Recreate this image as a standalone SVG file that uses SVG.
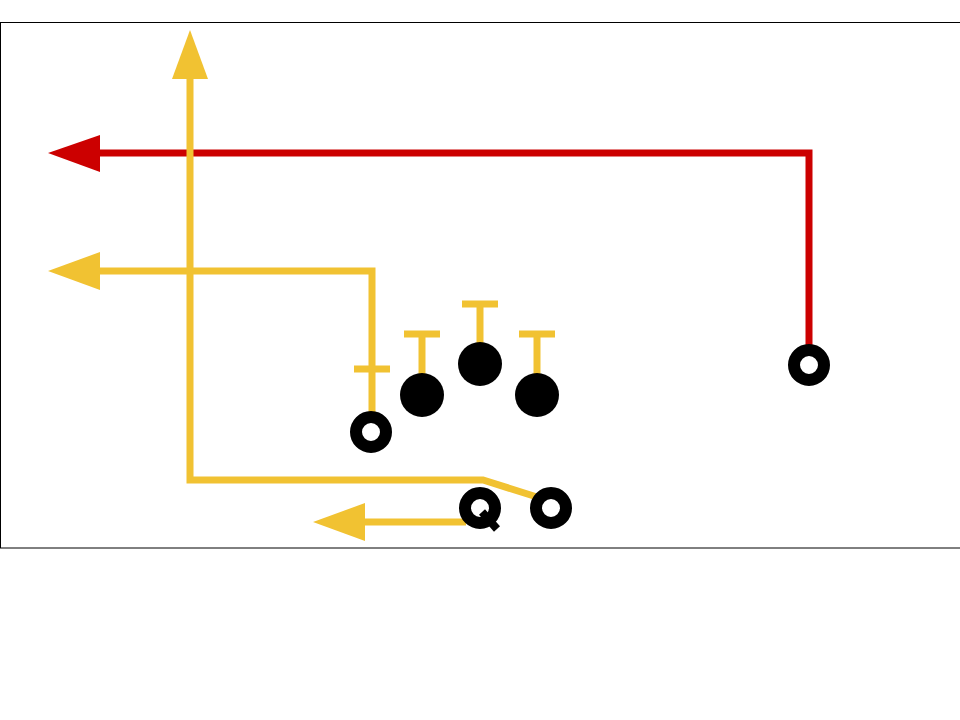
<svg xmlns="http://www.w3.org/2000/svg" width="960" height="720" viewBox="0 0 960 720">
<style>
.y{stroke:#f1c232;stroke-width:7;fill:none;stroke-linecap:butt}
.r{stroke:#cc0000;stroke-width:7;fill:none}
.ya{fill:#f1c232}
.ra{fill:#cc0000}
.ring{fill:#fff;stroke:#000;stroke-width:12}
.dot{fill:#000}
</style>
<rect x="0.5" y="22.5" width="962" height="525.5" fill="#fff" stroke="#000" stroke-width="1"/>
<g id="connectors">
<polyline class="r" points="809,345 809,153 95,153"/>
<polygon class="ra" points="48,153 100,135 100,172"/>
<polyline class="y" points="190,75 190,480 483,480 537,497"/>
<polygon class="ya" points="190,30 172,79 208,79"/>
<polyline class="y" points="372,412 372,271 95,271"/>
<polygon class="ya" points="48,271 100,252 100,290"/>
<line class="y" x1="354" y1="369" x2="390" y2="369"/>
<line class="y" x1="422" y1="374" x2="422" y2="334"/>
<line class="y" x1="404" y1="334" x2="440" y2="334"/>
<line class="y" x1="480" y1="344" x2="480" y2="304"/>
<line class="y" x1="462" y1="304" x2="498" y2="304"/>
<line class="y" x1="537" y1="374" x2="537" y2="334"/>
<line class="y" x1="519" y1="334" x2="555" y2="334"/>
<line class="y" x1="466" y1="522" x2="360" y2="522"/>
<polygon class="ya" points="313,522 365,503 365,541"/>
</g>
<g id="wr-left"><circle class="ring" cx="371" cy="432" r="15"/></g>
<g id="wr-right"><circle class="ring" cx="809" cy="365" r="15"/></g>
<g id="lineman-1"><circle class="dot" cx="422" cy="395" r="22"/></g>
<g id="lineman-2"><circle class="dot" cx="480" cy="364" r="22"/></g>
<g id="lineman-3"><circle class="dot" cx="537" cy="395" r="22"/></g>
<g id="qb"><circle class="ring" cx="480" cy="508" r="15"/><line x1="482" y1="512" x2="497" y2="529" stroke="#000" stroke-width="8"/></g>
<g id="rb"><circle class="ring" cx="551" cy="508" r="15"/></g>
</svg>
